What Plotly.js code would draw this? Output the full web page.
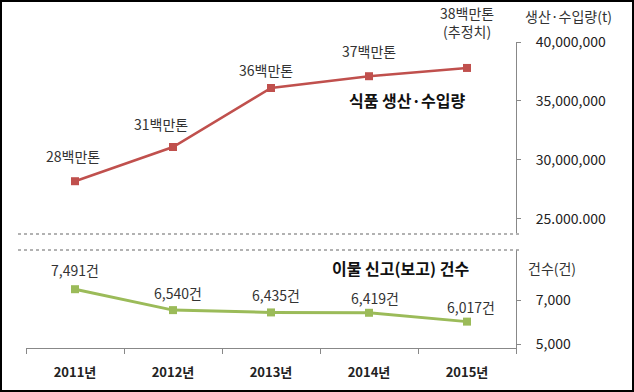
<!DOCTYPE html>
<html>
<head>
<meta charset="utf-8">
<script src="https://cdn.plot.ly/plotly-3.0.1.min.js"></script>
<style>html,body{margin:0;padding:0;background:#fff;}#chart{width:634px;height:392px;}</style>
</head>
<body>
<div id="chart"></div>
<script>
const years = ["2011년", "2012년", "2013년", "2014년", "2015년"];
const foodVolume = [28200000, 31100000, 36100000, 37100000, 37800000];
const foodLabels = ["28백만톤", "31백만톤", "36백만톤", "37백만톤", "38백만톤<br>(추정치)"];
const reportCounts = [7491, 6540, 6435, 6419, 6017];
const reportLabels = ["7,491건", "6,540건", "6,435건", "6,419건", "6,017건"];
const topTickVals = [25000000, 30000000, 35000000, 40000000];
const topTickText = ["25.000.000", "30,000,000", "35,000,000", "40,000,000"];
const botTickVals = [5000, 7000];
const botTickText = ["5,000", "7,000"];

const FONT = "'Noto Sans CJK KR', 'Noto Sans', sans-serif";

// label offsets (pixels) relative to each point
const foodShiftX = [-2, -12, -5, 0, 0];
const foodShiftY = [25, 23, 18, 25, 46];
const repShiftX = [0, 5, 5, 6, 4];
const repShiftY = [19, 17, 17, 15, 15];

const traces = [
  {
    x: years, y: foodVolume, xaxis: 'x', yaxis: 'y',
    type: 'scatter', mode: 'lines+markers',
    line: {color: '#c0504d', width: 2.5},
    marker: {symbol: 'square', size: 8, color: '#c0504d'},
    cliponaxis: false, hoverinfo: 'skip'
  },
  {
    x: years, y: reportCounts, xaxis: 'x', yaxis: 'y2',
    type: 'scatter', mode: 'lines+markers',
    line: {color: '#9bbb59', width: 3},
    marker: {symbol: 'square', size: 8, color: '#9bbb59'},
    cliponaxis: false, hoverinfo: 'skip'
  }
];

const pointLabels = [];
years.forEach((yr, i) => {
  pointLabels.push({xref: 'x', yref: 'y', x: yr, y: foodVolume[i], text: foodLabels[i],
    showarrow: false, xshift: foodShiftX[i], yshift: foodShiftY[i],
    xanchor: 'center', yanchor: 'middle',
    font: {family: FONT, size: 14, color: '#333'}});
  pointLabels.push({xref: 'x', yref: 'y2', x: yr, y: reportCounts[i], text: reportLabels[i],
    showarrow: false, xshift: repShiftX[i], yshift: repShiftY[i],
    xanchor: 'center', yanchor: 'middle',
    font: {family: FONT, size: 14, color: '#333'}});
});

const layout = {
  width: 634, height: 392,
  margin: {l: 0, r: 0, t: 0, b: 0},
  paper_bgcolor: '#fff', plot_bgcolor: 'rgba(0,0,0,0)',
  showlegend: false,
  font: {family: FONT, color: '#333'},
  xaxis: {
    domain: [26/634, 516/634], anchor: 'y2', type: 'category',
    range: [-0.5, 4.5], showgrid: false, zeroline: false,
    showline: true, linecolor: '#888', linewidth: 1,
    ticks: 'outside', tickson: 'boundaries', ticklen: 5, tickcolor: '#888',
    tickfont: {family: FONT, size: 13, color: '#222', weight: 'bold'},
    ticklabelstandoff: 12
  },
  yaxis: {
    domain: [1 - 233/392, 1 - 42/392], anchor: 'x', side: 'right',
    range: [23810000, 40000000], showgrid: false, zeroline: false,
    showline: true, linecolor: '#888', linewidth: 1,
    ticks: 'outside', ticklen: 4, tickcolor: '#888',
    tickvals: topTickVals, ticktext: topTickText,
    tickfont: {family: FONT, size: 14, color: '#222'},
    ticklabelstandoff: 12
  },
  yaxis2: {
    domain: [1 - 348/392, 1 - 250/392], anchor: 'x', side: 'right',
    range: [4818, 9273], showgrid: false, zeroline: false,
    showline: true, linecolor: '#888', linewidth: 1,
    ticks: 'outside', ticklen: 4, tickcolor: '#888',
    tickvals: botTickVals, ticktext: botTickText,
    tickfont: {family: FONT, size: 14, color: '#222'},
    ticklabelstandoff: 12
  },
  annotations: pointLabels.concat([
    {xref: 'paper', yref: 'paper', x: 568/634, y: 1 - 16/392, text: '생산·수입량(t)', showarrow: false,
     font: {family: FONT, size: 14, color: '#333'}, xanchor: 'center', yanchor: 'middle'},
    {xref: 'paper', yref: 'paper', x: 552/634, y: 1 - 268/392, text: '건수(건)', showarrow: false,
     font: {family: FONT, size: 14, color: '#333'}, xanchor: 'center', yanchor: 'middle'},
    {xref: 'paper', yref: 'paper', x: 407/634, y: 1 - 100/392, text: '식품 생산·수입량', showarrow: false,
     font: {family: FONT, size: 16, color: '#111', weight: 'bold'}, xanchor: 'center', yanchor: 'middle'},
    {xref: 'paper', yref: 'paper', x: 401/634, y: 1 - 268/392, text: '이물 신고(보고) 건수', showarrow: false,
     font: {family: FONT, size: 16, color: '#111', weight: 'bold'}, xanchor: 'center', yanchor: 'middle'}
  ]),
  shapes: [
    {type: 'line', xref: 'paper', yref: 'paper', x0: 18/634, x1: 520/634, y0: 1 - 234/392, y1: 1 - 234/392,
     line: {color: '#999', width: 1.5, dash: 'dot'}},
    {type: 'line', xref: 'paper', yref: 'paper', x0: 18/634, x1: 520/634, y0: 1 - 250/392, y1: 1 - 250/392,
     line: {color: '#999', width: 1.5, dash: 'dot'}},
    {type: 'rect', xref: 'paper', yref: 'paper', x0: 1/634, x1: 633/634, y0: 1/392, y1: 391/392,
     line: {color: '#000', width: 2}}
  ]
};

Plotly.newPlot('chart', traces, layout, {displayModeBar: false, staticPlot: true});
</script>
</body>
</html>
